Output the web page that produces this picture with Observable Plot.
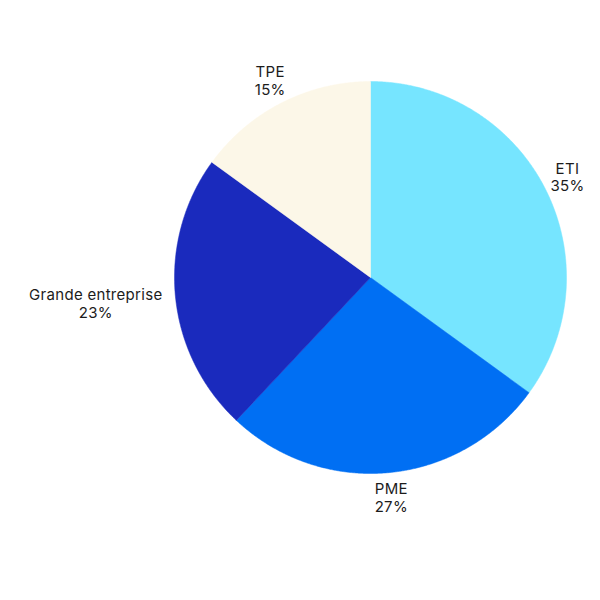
<!DOCTYPE html>
<html>
<head>
<meta charset="utf-8">
<script src="https://cdn.jsdelivr.net/npm/d3@7"></script>
<script src="https://cdn.jsdelivr.net/npm/@observablehq/plot@0.6"></script>
<style>
  html, body { margin: 0; padding: 0; background: #ffffff; }
  #chart { width: 600px; height: 600px; }
  #chart text { letter-spacing: 0.3px; }
</style>
</head>
<body>
<div id="chart"></div>
<script>
const categories = ["ETI", "PME", "Grande entreprise", "TPE"];
const shares = [35, 27, 23, 15];
const colors = ["#76E5FF", "#006FF3", "#1A2ABD", "#FCF7E8"];

const FONT = "Inter, 'Noto Sans', sans-serif";
const data = categories.map((name, i) => ({name, value: shares[i]}));
const arcs = d3.pie().value(d => d.value).sort(null)(data);

// polygon outline for each slice (unit circle, angles clockwise from top)
const pts = [];
for (const a of arcs) {
  const name = a.data.name;
  pts.push({name, x: 0, y: 0});
  const n = Math.max(2, Math.ceil((a.endAngle - a.startAngle) / 0.005));
  for (let k = 0; k <= n; k++) {
    const t = a.startAngle + (a.endAngle - a.startAngle) * k / n;
    pts.push({name, x: Math.sin(t), y: Math.cos(t)});
  }
  pts.push({name, x: 0, y: 0});
}

// label placement: outside the pie, pushed further out for wide labels
const ctx = document.createElement("canvas").getContext("2d");
ctx.font = `15px Inter`;
const R = 196;
const labels = arcs.map(a => {
  const mid = (a.startAngle + a.endAngle) / 2;
  const w = ctx.measureText(a.data.name).width;
  const s = Math.abs(Math.sin(mid));
  const r = (221 + Math.max(0, w / 2 - 20) * s * 1.25) / R;
  return {name: a.data.name, text: `${a.data.name}\n${a.data.value}%`, x: r * Math.sin(mid), y: r * Math.cos(mid)};
});

const chart = Plot.plot({
  width: 600,
  height: 600,
  marginLeft: 174,
  marginRight: 34,
  marginTop: 81,
  marginBottom: 127,
  x: {domain: [-1, 1], axis: null},
  y: {domain: [-1, 1], axis: null},
  color: {domain: categories, range: colors},
  style: {fontFamily: FONT, background: "#ffffff"},
  marks: [
    Plot.line(pts, {x: "x", y: "y", z: "name", fill: "name", stroke: "name", strokeWidth: 0.5, curve: "linear"}),
    Plot.text(labels, {x: "x", y: "y", text: "text", fontSize: 15, fill: "#1c1c1c", lineHeight: 1.15, textAnchor: "middle"})
  ]
});
document.getElementById("chart").appendChild(chart);
</script>
</body>
</html>
